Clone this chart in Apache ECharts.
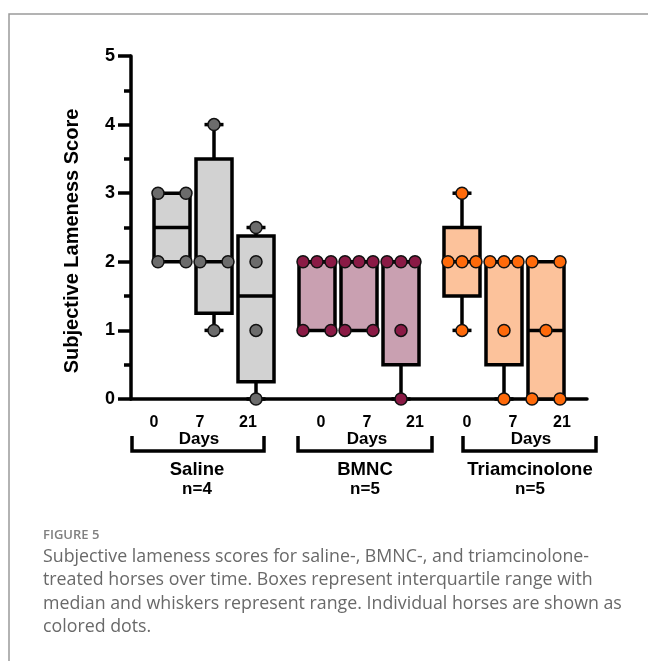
<!DOCTYPE html>
<html>
<head>
<meta charset="utf-8">
<script src="https://cdn.jsdelivr.net/npm/echarts@6/dist/echarts.min.js"></script>
<style>
html,body{margin:0;padding:0;background:#fff;}
#c{width:648px;height:661px;}
</style>
</head>
<body>
<div id="c"></div>
<script>
// ---- data ----
const groups = ['Saline', 'BMNC', 'Triamcinolone'];
const groupN = ['n=4', 'n=5', 'n=5'];
const dayLabels = ['0', '7', '21'];
const yTicks = [0, 1, 2, 3, 4, 5];
const salineScores = [
  [2, 2, 3, 3],      // day 0
  [1, 2, 2, 4],      // day 7
  [0, 1, 2, 2.5]     // day 21
];
const bmncScores = [
  [1, 1, 2, 2, 2],
  [1, 1, 2, 2, 2],
  [0, 1, 2, 2, 2]
];
const triamScores = [
  [1, 2, 2, 2, 3],
  [0, 1, 2, 2, 2],
  [0, 0, 1, 2, 2]
];
const allScores = [salineScores, bmncScores, triamScores];

// ---- styles ----
const boxFill = ['#d2d2d2', '#c9a0b1', '#fcc29b'];
const dotFill = ['#6c6c6c', '#8a1a45', '#ff6a0a'];
const groupStep = 3.452;          // box slots per group incl. gap
const dotStep = 1 / 3;            // horizontal spread of tied dots (x units)

function quant(s, p) {
  const n = s.length, h = (n + 1) * p;
  if (h <= 1) return s[0];
  if (h >= n) return s[n - 1];
  const lo = Math.floor(h);
  return s[lo - 1] + (h - lo) * (s[lo] - s[lo - 1]);
}

const boxData = [];
const dotSeries = [];
allScores.forEach((grp, g) => {
  const pts = [];
  grp.forEach((vals, d) => {
    const s = vals.slice().sort((a, b) => a - b);
    const pos = g * groupStep + d;
    boxData.push([pos, s[0], quant(s, 0.25), quant(s, 0.5), quant(s, 0.75), s[s.length - 1], g]);
    const counts = {};
    s.forEach(v => counts[v] = (counts[v] || 0) + 1);
    const seen = {};
    s.forEach(v => {
      const k = counts[v];
      const j = seen[v] = (seen[v] === undefined ? 0 : seen[v] + 1);
      const spacing = k === 2 ? 2 * dotStep : dotStep;
      pts.push([pos + (j - (k - 1) / 2) * spacing, v]);
    });
  });
  dotSeries.push({
    type: 'scatter', data: pts, symbolSize: 12, z: 5,
    itemStyle: {color: dotFill[g], borderColor: '#111', borderWidth: 1.5, opacity: 1},
    emphasis: {disabled: true}
  });
});

const chart = echarts.init(document.getElementById('c'), null, {renderer: 'canvas'});
const bold = 'bold';
const ff = '"Liberation Sans", Arial, sans-serif';
const capFont = '"Open Sans", Lato, sans-serif';

const option = {
  animation: false,
  backgroundColor: '#fff',
  grid: {left: 131, top: 56, width: 456, height: 343},
  xAxis: {
    type: 'value', min: -0.976, max: 9.88,
    axisLine: {show: true, onZero: false, lineStyle: {color: '#000', width: 3.5}},
    axisTick: {show: false}, axisLabel: {show: false}, splitLine: {show: false}
  },
  yAxis: {
    type: 'value', min: yTicks[0], max: yTicks[yTicks.length - 1], interval: 1,
    axisLine: {show: true, onZero: false, lineStyle: {color: '#000', width: 3.5}},
    axisTick: {show: true, length: 13, lineStyle: {color: '#000', width: 3.5}},
    minorTick: {show: true, splitNumber: 2, length: 7, lineStyle: {color: '#000', width: 3.5}},
    axisLabel: {color: '#000', fontSize: 18, fontWeight: bold, fontFamily: ff, margin: 16},
    splitLine: {show: false}
  },
  series: [{
    type: 'custom', z: 2, data: boxData,
    encode: {x: 0, y: [1, 2, 3, 4, 5]},
    renderItem: function (params, api) {
      const x = api.value(0);
      const g = api.value(6);
      const mn = api.value(1), q1 = api.value(2), md = api.value(3), q3 = api.value(4), mx = api.value(5);
      const hw = 18, cw = 9.5;
      const pTop = api.coord([x, q3]), pBot = api.coord([x, q1]);
      const pMed = api.coord([x, md]), pMin = api.coord([x, mn]), pMax = api.coord([x, mx]);
      const cx = pTop[0];
      const ls = {stroke: '#000', lineWidth: 3.5};
      const children = [];
      if (mx > q3) {
        children.push({type: 'line', shape: {x1: cx, y1: pTop[1], x2: cx, y2: pMax[1]}, style: ls});
        children.push({type: 'line', shape: {x1: cx - cw, y1: pMax[1], x2: cx + cw, y2: pMax[1]}, style: ls});
      }
      if (mn < q1) {
        children.push({type: 'line', shape: {x1: cx, y1: pBot[1], x2: cx, y2: pMin[1]}, style: ls});
        children.push({type: 'line', shape: {x1: cx - cw, y1: pMin[1], x2: cx + cw, y2: pMin[1]}, style: ls});
      }
      children.push({type: 'rect', shape: {x: cx - hw, y: pTop[1], width: 2 * hw, height: pBot[1] - pTop[1]},
        style: {fill: boxFill[g], stroke: '#000', lineWidth: 3.5}});
      children.push({type: 'line', shape: {x1: cx - hw, y1: pMed[1], x2: cx + hw, y2: pMed[1]}, style: ls});
      return {type: 'group', children: children};
    }
  }].concat(dotSeries)
};
chart.setOption(option);

// ---- annotations below the axis (brackets, day labels, group names) ----
const bracketX = [[132, 264], [298, 432], [463, 596]];
const dayX = [[154, 200, 248], [321, 367, 415], [467, 513, 562]];
const daysX = [199, 367, 531];
const nameX = [197, 365, 530];
const gfx = [];
groups.forEach((name, g) => {
  const [a, b] = bracketX[g];
  gfx.push({type: 'polyline', shape: {points: [[a, 436], [a, 451], [b, 451], [b, 436]]},
    style: {stroke: '#000', lineWidth: 3.5, fill: null}});
  dayLabels.forEach((t, d) => {
    gfx.push({type: 'text', x: dayX[g][d], y: 423,
      style: {text: t, fill: '#000', font: 'bold 16px ' + ff, align: 'center', verticalAlign: 'middle'}});
  });
  gfx.push({type: 'text', x: daysX[g], y: 439,
    style: {text: 'Days', fill: '#000', font: 'bold 17px ' + ff, align: 'center', verticalAlign: 'middle'}});
  gfx.push({type: 'text', x: nameX[g], y: 470,
    style: {text: name, fill: '#000', font: 'bold 18.5px ' + ff, align: 'center', verticalAlign: 'middle'}});
  gfx.push({type: 'text', x: nameX[g], y: 489,
    style: {text: groupN[g], fill: '#000', font: 'bold 17px ' + ff, align: 'center', verticalAlign: 'middle'}});
});
// y axis title
gfx.push({type: 'text', x: 72, y: 241, rotation: Math.PI / 2,
  style: {text: 'Subjective Lameness Score', fill: '#000', font: 'bold 20px ' + ff, align: 'center', verticalAlign: 'middle'}});
// frame
gfx.push({type: 'polyline', shape: {points: [[9, 661], [9, 14], [648, 14]]},
  style: {stroke: '#9a9a9a', lineWidth: 1.5, fill: null}});
// caption
gfx.push({type: 'text', x: 43, y: 535,
  style: {text: 'FIGURE 5', fill: '#808080', font: '600 13px ' + capFont, verticalAlign: 'middle'}});
const capLines = [
  'Subjective lameness scores for saline-, BMNC-, and triamcinolone-',
  'treated horses over time. Boxes represent interquartile range with',
  'median and whiskers represent range. Individual horses are shown as',
  'colored dots.'
];
capLines.forEach((t, i) => {
  gfx.push({type: 'text', x: 43, y: 557 + i * 23.3,
    style: {text: t, fill: '#696969', font: '17.8px ' + capFont, verticalAlign: 'middle'}});
});
chart.setOption({graphic: gfx});
</script>
</body>
</html>
